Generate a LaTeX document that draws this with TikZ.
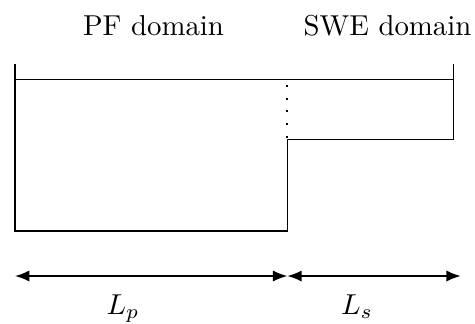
\documentclass[tikz,border=0pt]{standalone}
\usetikzlibrary{arrows.meta}
\begin{document}
\begin{tikzpicture}[x=0.3472pt,y=-0.3472pt,
  wall/.style={line width=0.55pt},
  dimline/.style={{Latex[length=5pt,width=3.9pt]}-{Latex[length=5pt,width=3.9pt]}, line width=0.55pt},
  lbl/.style={anchor=base, inner sep=0pt}]
\useasboundingbox (0,0) rectangle (475,323);
\coordinate (tl) at (15,64);
\coordinate (wl) at (15,79.3);
\coordinate (wr) at (453.3,79.3);
\coordinate (tr) at (453.3,64);
\coordinate (sr) at (453.3,139.3);
\coordinate (st) at (287.3,139.3);
\coordinate (sb) at (287.3,230.7);
\coordinate (bl) at (15,230.7);
\coordinate (dt) at (287.3,85);
\draw[wall] (tl) -- (bl) -- (sb) -- (st) -- (sr) -- (tr);
\draw[wall] (wl) -- (wr);
\draw[line width=0.7pt, dash pattern=on 0.7pt off 3.7pt] (dt) -- (st);
\coordinate (a0) at (15,276);
\coordinate (a1) at (287.3,276);
\coordinate (a2) at (460.7,276);
\draw[dimline] (a0) -- (a1);
\draw[dimline] (a1) -- (a2);
\node[lbl] (pf) at (153.5,35) {PF domain};
\node[lbl] (swe) at (387.5,35) {SWE domain};
\node[lbl] (lp) at (123,314) {$L_p$};
\node[lbl] (ls) at (357,314) {$L_s$};
\end{tikzpicture}
\end{document}
